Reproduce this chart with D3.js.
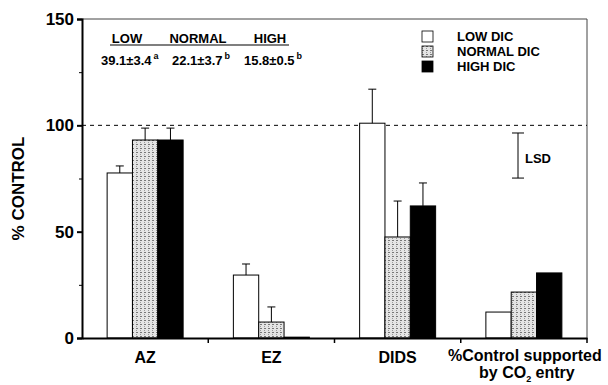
<!DOCTYPE html>
<html lang="en">
<head>
<meta charset="UTF-8">
<title>% Control</title>
<script src="https://d3js.org/d3.v7.min.js"></script>
<style>
    body { margin: 0; background: #fff; }
    text { font-family: Arial, "Liberation Sans", sans-serif; font-weight: bold; }
</style>
</head>
<body>
<svg id="main" width="608" height="385"></svg>
<script>
    const categories = ['AZ', 'EZ', 'DIDS', '%Control supported'];
    const seriesNames = ['LOW DIC', 'NORMAL DIC', 'HIGH DIC'];
    const lowValues = [77.6, 29.6, 101, 12.2];
    const normalValues = [93.1, 7.5, 47.5, 21.6];
    const highValues = [93.1, 0.4, 62.1, 30.6];
    const lowErr = [3.3, 5.2, 16, null];
    const normalErr = [5.6, 7.1, 16.9, null];
    const highErr = [5.6, null, 10.8, null];
    const yTicks = [0, 50, 100, 150];
    const lsdRange = [75.2, 96.4];
    const insetHeads = ['LOW', 'NORMAL', 'HIGH'];
    const insetVals = ['39.1\u00b13.4', '22.1\u00b13.7', '15.8\u00b10.5'];
    const insetSup = ['a', 'b', 'b'];

    const svg = d3.select('svg#main');
    const mLeft = 82, mRight = 587, mTop = 19, mBottom = 338;

    const defs = svg.append('defs');
    const pat = defs.append('pattern').attr('id', 'dots')
        .attr('width', 4).attr('height', 4).attr('patternUnits', 'userSpaceOnUse');
    pat.append('rect').attr('width', 4).attr('height', 4).attr('fill', '#e4e4e4');
    pat.append('rect').attr('x', 0).attr('y', 0).attr('width', 2).attr('height', 1).attr('fill', '#777');
    pat.append('rect').attr('x', 0).attr('y', 2).attr('width', 1).attr('height', 1).attr('fill', '#999');

    const fills = ['#fff', 'url(#dots)', '#000'];
    const valueSets = [lowValues, normalValues, highValues];
    const errSets = [lowErr, normalErr, highErr];

    const x = d3.scaleBand().domain(categories).range([mLeft, mRight]);
    const xs = d3.scaleBand().domain(seriesNames).range([0, 76]);
    const y = d3.scaleLinear().domain([0, 150]).range([mBottom, mTop]);

    // frame
    svg.append('line').attr('x1', mLeft).attr('x2', mRight).attr('y1', mTop).attr('y2', mTop)
        .attr('stroke', '#444').attr('stroke-width', 1);
    svg.append('line').attr('x1', mRight).attr('x2', mRight).attr('y1', mTop).attr('y2', mBottom)
        .attr('stroke', '#444').attr('stroke-width', 1);

    // dashed 100 line
    svg.append('line').attr('x1', mLeft).attr('x2', mRight).attr('y1', y(100)).attr('y2', y(100))
        .attr('stroke', '#000').attr('stroke-dasharray', '4,4');

    // bars
    seriesNames.forEach((s, si) => {
        const g = svg.append('g');
        categories.forEach((c, ci) => {
            const v = valueSets[si][ci];
            const bx = x(c) + x.bandwidth() / 2 - 38 + xs(s);
            g.append('rect')
                .attr('x', bx).attr('y', y(v))
                .attr('width', xs.bandwidth()).attr('height', mBottom - y(v))
                .attr('fill', fills[si]).attr('stroke', '#000').attr('stroke-width', 1);
            const e = errSets[si][ci];
            if (e) {
                const cx = bx + xs.bandwidth() / 2;
                g.append('line').attr('x1', cx).attr('x2', cx).attr('y1', y(v)).attr('y2', y(v + e))
                    .attr('stroke', '#000');
                g.append('line').attr('x1', cx - 4).attr('x2', cx + 4).attr('y1', y(v + e)).attr('y2', y(v + e))
                    .attr('stroke', '#000');
            }
        });
    });

    // y axis
    const yAxis = svg.append('g').attr('transform', `translate(${mLeft},0)`)
        .call(d3.axisLeft(y).tickValues(yTicks).tickSize(5).tickPadding(3));
    yAxis.select('.domain').attr('stroke-width', 2);
    yAxis.selectAll('.tick line').attr('stroke-width', 2);
    yAxis.selectAll('text').style('font-size', '17px').attr('fill', '#000');
    svg.append('g').attr('transform', `translate(${mLeft},0)`)
        .call(d3.axisLeft(y).tickValues([25, 75, 125]).tickSize(3).tickFormat(''))
        .select('.domain').remove();

    // x axis
    const xAxis = svg.append('g').attr('transform', `translate(0,${mBottom})`)
        .call(d3.axisBottom(x).tickValues([]).tickSizeOuter(0));
    xAxis.select('.domain').attr('stroke-width', 2);
    [1, 2, 3, 4].forEach(i => {
        const tx = mLeft + i * x.step();
        svg.append('line').attr('x1', tx).attr('x2', tx).attr('y1', mBottom).attr('y2', mBottom + 5)
            .attr('stroke', '#000').attr('stroke-width', 1.5);
    });
    categories.forEach((c, i) => {
        const t = svg.append('text').attr('x', x(c) + x.bandwidth() / 2).attr('y', 363)
            .attr('text-anchor', 'middle').style('font-size', '16px').text(c);
        if (i === 3) {
            t.attr('x', x(c) + x.bandwidth() / 2 + 1).attr('y', 361);
            const t2 = svg.append('text').attr('x', x(c) + x.bandwidth() / 2 + 3).attr('y', 378)
                .attr('text-anchor', 'middle').style('font-size', '16px');
            t2.append('tspan').text('by CO');
            t2.append('tspan').attr('dy', 4).style('font-size', '9px').text('2');
            t2.append('tspan').attr('dy', -4).text(' entry');
        }
    });

    // y label
    svg.append('text').attr('transform', `translate(24,${(mTop + mBottom) / 2 + 10}) rotate(-90)`)
        .attr('text-anchor', 'middle').style('font-size', '17px').text('% CONTROL');

    // LSD
    const lx = 518;
    svg.append('line').attr('x1', lx).attr('x2', lx).attr('y1', y(lsdRange[0])).attr('y2', y(lsdRange[1])).attr('stroke', '#000');
    lsdRange.forEach(v => svg.append('line').attr('x1', lx - 6).attr('x2', lx + 6).attr('y1', y(v)).attr('y2', y(v)).attr('stroke', '#000'));
    svg.append('text').attr('x', 525).attr('y', 163).style('font-size', '13px').text('LSD');

    // legend
    const legend = svg.selectAll('.legend').data(seriesNames).enter().append('g')
        .attr('class', 'legend')
        .attr('transform', (d, i) => `translate(422,${31 + i * 15})`);
    legend.append('rect').attr('width', 11).attr('height', 11)
        .attr('fill', (d, i) => fills[i]).attr('stroke', '#000').attr('stroke-width', 0.8);
    legend.append('text').attr('x', 35).attr('y', 10).style('font-size', '13px').text(d => d);

    // inset
    const headX = [127, 198, 270];
    insetHeads.forEach((h, i) => {
        svg.append('text').attr('x', headX[i]).attr('y', 43).attr('text-anchor', 'middle')
            .style('font-size', '13px').text(h);
    });
    svg.append('line').attr('x1', 110).attr('x2', 289).attr('y1', 45).attr('y2', 45)
        .attr('stroke', '#000').attr('stroke-width', 1.2);
    const valX = [101, 172, 244];
    insetVals.forEach((v, i) => {
        const t = svg.append('text').attr('x', valX[i]).attr('y', 65).style('font-size', '13px');
        t.append('tspan').text(v);
        t.append('tspan').attr('dx', 2).attr('dy', -6).style('font-size', '9px').text(insetSup[i]);
    });
</script>
</body>
</html>
